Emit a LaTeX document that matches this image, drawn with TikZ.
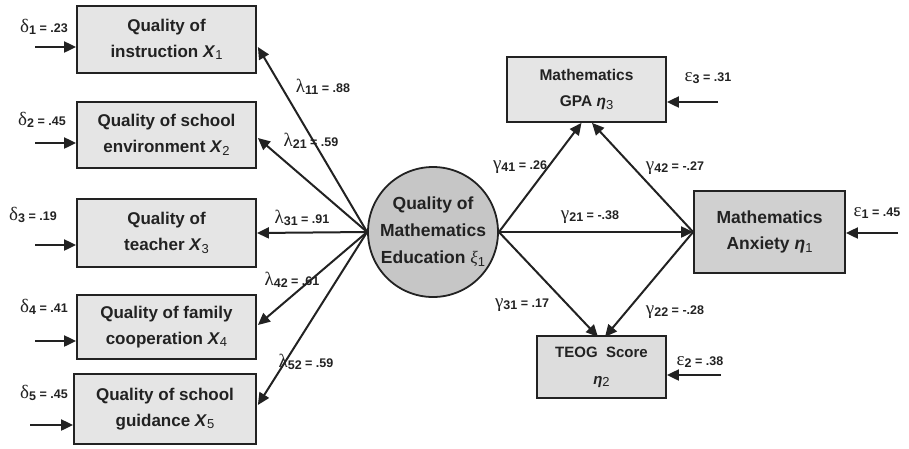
\documentclass[tikz,border=0pt]{standalone}
\usepackage{fontspec}
\setmainfont{Liberation Sans}
\newfontfamily\grk{Liberation Serif}
\usetikzlibrary{arrows.meta,calc}
\definecolor{ink}{HTML}{222222}
\newcommand{\gl}[3]{{\grk\fontsize{19}{19}\selectfont #1}{\fontsize{12.5}{12.5}\selectfont\bfseries\raisebox{-2pt}{#2} = #3}}
\newcommand{\sub}[1]{\raisebox{-2.5pt}{\mdseries\fontsize{13}{13}\selectfont #1}}
\begin{document}
\begin{tikzpicture}[x=1pt,y=-1pt,
  box/.style={draw=ink, line width=1.8pt, fill=gray!20, align=center, text=ink, inner sep=0pt,
    font=\bfseries\fontsize{17}{26}\selectfont},
  arr/.style={draw=ink, line width=2pt, -{Triangle[length=12pt,width=11pt]}},
  lbl/.style={inner sep=0pt, text=ink}]
\useasboundingbox (0,0) rectangle (909,448);
% left boxes
\node[box, minimum width=179pt, minimum height=67pt] (b1) at (166.5,39.5) {Quality of\\instruction \textit{X}\sub{1}};
\node[box, minimum width=179pt, minimum height=66pt] (b2) at (166.5,135) {Quality of school\\environment \textit{X}\sub{2}};
\node[box, minimum width=179pt, minimum height=68pt] (b3) at (166.5,233) {Quality of\\teacher \textit{X}\sub{3}};
\node[box, minimum width=179pt, minimum height=64pt] (b4) at (166.5,327) {Quality of family\\cooperation \textit{X}\sub{4}};
\node[box, minimum width=182pt, minimum height=70pt] (b5) at (165,409) {Quality of school\\guidance \textit{X}\sub{5}};
% latent
\node[circle, draw=ink, line width=1.8pt, fill=gray!45, minimum size=130pt, inner sep=0pt, align=center, text=ink,
  font=\bfseries\fontsize{17.5}{27}\selectfont] (xi) at (433,232) {Quality of\\Mathematics\\Education {\grk\mdseries\itshape ξ}\sub{1}};
% right boxes
\node[box, minimum width=159pt, minimum height=65pt, font=\bfseries\fontsize{15.5}{26}\selectfont] (gpa) at (586.5,89.5) {Mathematics\\GPA \textit{η}\sub{3}};
\node[box, fill=gray!37, minimum width=151pt, minimum height=82pt, font=\bfseries\fontsize{17.5}{26}\selectfont] (anx) at (769.5,232) {Mathematics\\Anxiety \textit{η}\sub{1}};
\node[box, fill=gray!27, minimum width=129pt, minimum height=62pt, font=\bfseries\fontsize{15}{27}\selectfont] (teog) at (601.5,367) {TEOG\ \ Score\\\textit{η}\sub{2}};
% error coordinates
\coordinate (d1) at (35,47);
\coordinate (d2) at (35,143);
\coordinate (d3) at (35,245);
\coordinate (d4) at (35,341);
\coordinate (d5) at (30,425);
\coordinate (e3) at (718,102);
\coordinate (e1) at (898,233);
\coordinate (e2) at (721,375);
% error arrows
\draw[arr] (d1) -- (d1 -| b1.west);
\draw[arr] (d2) -- (d2 -| b2.west);
\draw[arr] (d3) -- (d3 -| b3.west);
\draw[arr] (d4) -- (d4 -| b4.west);
\draw[arr] (d5) -- (d5 -| b5.west);
\draw[arr] (e3) -- (e3 -| gpa.east);
\draw[arr] (e1) -- (e1 -| anx.east);
\draw[arr] (e2) -- (e2 -| teog.east);
% loadings
\draw[arr] (xi.west) -- ($(b1.east)+(1,7.5)$);
\draw[arr] (xi.west) -- ($(b2.east)+(1,3)$);
\draw[arr] (xi.west) -- (b3.east);
\draw[arr] (xi.west) -- ($(b4.east)+(1,-2)$);
\draw[arr] (xi.west) -- ($(b5.east)+(1,-4)$);
% structural
\draw[arr] (xi.east) -- ($(gpa.south)+(-5,0)$);
\draw[arr] (xi.east) -- (anx.west);
\draw[arr] (xi.east) -- ($(teog.south)+(-3.5,-62)$);
\draw[arr] (anx.west) -- ($(gpa.south)+(5.5,0)$);
\draw[arr] (anx.west) -- ($(teog.south)+(3.5,-62)$);
% labels
\node[lbl] (ld1) at (44,27) {\gl{δ}{1}{.23}};
\node[lbl] (ld2) at (42,120) {\gl{δ}{2}{.45}};
\node[lbl] (ld3) at (33,215) {\gl{δ}{3}{.19}};
\node[lbl] (ld4) at (44,307) {\gl{δ}{4}{.41}};
\node[lbl] (ld5) at (44,393) {\gl{δ}{5}{.45}};
\node[lbl] (l11) at (323,87) {\gl{λ}{11}{.88}};
\node[lbl] (l21) at (311,141) {\gl{λ}{21}{.59}};
\node[lbl] (l31) at (302,218) {\gl{λ}{31}{.91}};
\node[lbl] (l42) at (292,280) {\gl{λ}{42}{.61}};
\node[lbl] (l52) at (306,362) {\gl{λ}{52}{.59}};
\node[lbl] (g41) at (520,167) {\gl{γ}{41}{.26}};
\node[lbl] (g42) at (675,168) {\gl{γ}{42}{-.27}};
\node[lbl] (g21) at (590,217) {\gl{γ}{21}{-.38}};
\node[lbl] (g31) at (522,305) {\gl{γ}{31}{.17}};
\node[lbl] (g22) at (675,312) {\gl{γ}{22}{-.28}};
\node[lbl] (le3) at (708,78) {\gl{ε}{3}{.31}};
\node[lbl] (le1) at (877,213) {\gl{ε}{1}{.45}};
\node[lbl] (le2) at (700,362) {\gl{ε}{2}{.38}};
\end{tikzpicture}
\end{document}
